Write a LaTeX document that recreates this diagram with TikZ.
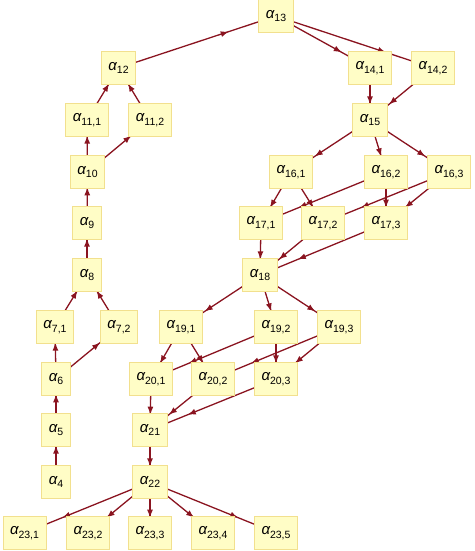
\documentclass[tikz,border=0pt]{standalone}
\usepackage{fontspec}
\setmainfont{Liberation Sans}
\usetikzlibrary{arrows.meta,decorations.markings,backgrounds}
\definecolor{boxfill}{HTML}{FFFDC6}
\definecolor{boxline}{HTML}{F2E08E}
\definecolor{edgecol}{HTML}{8A1420}
\newcommand{\al}[1]{{\itshape α}\raisebox{-0.45ex}{\fontsize{10.5}{10.5}\selectfont #1}}
\tikzset{
  vbox/.style={draw=boxline, fill=boxfill, line width=0.8pt, minimum height=33pt,
    inner xsep=7pt, inner ysep=0pt, font=\fontsize{15}{15}\selectfont},
  edge/.style={draw=edgecol, line width=1.3pt,
    postaction={decorate, decoration={markings,
      mark=at position 0.7 with {\arrow[edgecol]{Latex[length=8pt,width=6pt]}}}}}
}
\begin{document}
\begin{tikzpicture}[x=1pt,y=-1pt]
\useasboundingbox (0,0) rectangle (474,551);
\node[vbox] (a4) at (56,482) {\al{4}};
\node[vbox] (a5) at (56,430) {\al{5}};
\node[vbox] (a6) at (56,379) {\al{6}};
\node[vbox] (a71) at (55,327) {\al{7,1}};
\node[vbox] (a72) at (119,327) {\al{7,2}};
\node[vbox] (a8) at (87,275) {\al{8}};
\node[vbox] (a9) at (87,223) {\al{9}};
\node[vbox] (a10) at (87.5,172) {\al{10}};
\node[vbox] (a111) at (87,120) {\al{11,1}};
\node[vbox] (a112) at (150,120) {\al{11,2}};
\node[vbox] (a12) at (118.5,68) {\al{12}};
\node[vbox] (a13) at (276,16) {\al{13}};
\node[vbox] (a141) at (370,68) {\al{14,1}};
\node[vbox] (a142) at (433,68) {\al{14,2}};
\node[vbox] (a15) at (370,120) {\al{15}};
\node[vbox] (a161) at (291,172) {\al{16,1}};
\node[vbox] (a162) at (386,172) {\al{16,2}};
\node[vbox] (a163) at (449,172) {\al{16,3}};
\node[vbox] (a171) at (261,223) {\al{17,1}};
\node[vbox] (a172) at (323,223) {\al{17,2}};
\node[vbox] (a173) at (386,223) {\al{17,3}};
\node[vbox] (a18) at (260,275) {\al{18}};
\node[vbox] (a191) at (181,327) {\al{19,1}};
\node[vbox] (a192) at (276,327) {\al{19,2}};
\node[vbox] (a193) at (339,327) {\al{19,3}};
\node[vbox] (a201) at (151,379) {\al{20,1}};
\node[vbox] (a202) at (213,379) {\al{20,2}};
\node[vbox] (a203) at (276,379) {\al{20,3}};
\node[vbox] (a21) at (150,430) {\al{21}};
\node[vbox] (a22) at (150,482) {\al{22}};
\node[vbox] (a231) at (24.5,533) {\al{23,1}};
\node[vbox] (a232) at (88,533) {\al{23,2}};
\node[vbox] (a233) at (150,533) {\al{23,3}};
\node[vbox] (a234) at (213,533) {\al{23,4}};
\node[vbox] (a235) at (276,533) {\al{23,5}};
\begin{scope}[on background layer]
\foreach \s/\t in {a4/a5, a5/a6, a6/a71, a6/a72, a71/a8, a72/a8, a8/a9, a9/a10,
  a10/a111, a10/a112, a111/a12, a112/a12, a12/a13, a13/a141, a13/a142,
  a141/a15, a142/a15, a15/a161, a15/a162, a15/a163,
  a161/a171, a161/a172, a162/a171, a162/a173, a163/a172, a163/a173,
  a171/a18, a172/a18, a173/a18, a18/a191, a18/a192, a18/a193,
  a191/a201, a191/a202, a192/a201, a192/a203, a193/a202, a193/a203,
  a201/a21, a202/a21, a203/a21, a21/a22,
  a22/a231, a22/a232, a22/a233, a22/a234, a22/a235}
  \draw[edge] (\s.center) -- (\t.center);
\end{scope}
\end{tikzpicture}
\end{document}
